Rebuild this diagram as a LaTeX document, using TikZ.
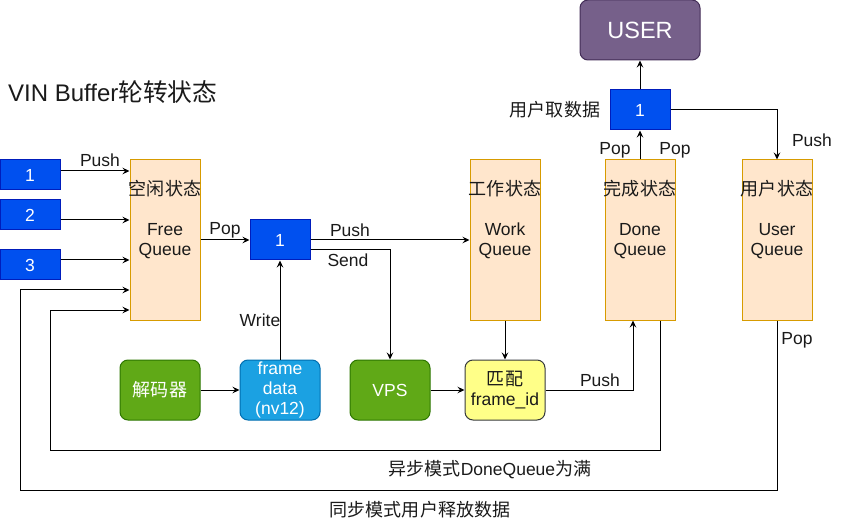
\documentclass[tikz,border=0pt]{standalone}
\usepackage{fontspec}
\setmainfont{Liberation Sans}
\newfontfamily\cjk{Noto Sans CJK SC}[Scale=1.03]
\usetikzlibrary{arrows.meta}
\definecolor{qF}{HTML}{FFE6CC}
\definecolor{qS}{HTML}{D79B00}
\definecolor{bF}{HTML}{0050EF}
\definecolor{bS}{HTML}{001DBC}
\definecolor{gF}{HTML}{60A917}
\definecolor{gS}{HTML}{2D7600}
\definecolor{cF}{HTML}{1BA1E2}
\definecolor{cS}{HTML}{006EAF}
\definecolor{yF}{HTML}{FFFF88}
\definecolor{yS}{HTML}{36393D}
\definecolor{pF}{HTML}{76608A}
\definecolor{pS}{HTML}{432D57}
\definecolor{txt}{HTML}{1A1A1A}
\begin{document}
\begin{tikzpicture}[x=1pt,y=-1pt,
  base/.style={font=\fontsize{17.5}{20}\selectfont, inner sep=0pt, align=center, text=txt},
  bluebox/.style={base, draw=bS, fill=bF, text=white, minimum width=60pt, minimum height=30pt, line width=1pt},
  queue/.style={draw=qS, fill=qF, minimum width=70pt, minimum height=160pt, inner sep=0pt, line width=1pt},
  rbox/.style={base, rounded corners=8pt, minimum width=80pt, minimum height=60pt, line width=1pt},
  arr/.style={-{Stealth[length=7pt,width=6.5pt,inset=2.5pt]}, line width=1pt},
  lbl/.style={base}
]
\useasboundingbox (0,0) rectangle (843,521);

% title
\node[base, font=\fontsize{24}{27}\selectfont, anchor=west] (title) at (8,92) {VIN Buffer{\cjk 轮转状态}};

% left buffers
\node[bluebox] (b1) at (30,175) {1};
\node[bluebox] (b2) at (30,215) {2};
\node[bluebox] (b3) at (30,265) {3};

% queues
\node[queue] (free) at (165,240) {};
\node[base] (freeT) at (165,220) {{\cjk 空闲状态}\\[20pt]Free\\Queue};
\node[queue] (work) at (505,240) {};
\node[base] (workT) at (505,220) {{\cjk 工作状态}\\[20pt]Work\\Queue};
\node[queue] (done) at (640,240) {};
\node[base] (doneT) at (640,220) {{\cjk 完成状态}\\[20pt]Done\\Queue};
\node[queue] (uq) at (777,240) {};
\node[base] (uqT) at (777,220) {{\cjk 用户状态}\\[20pt]User\\Queue};

% middle buffer and top buffer
\node[bluebox, minimum height=40pt] (m) at (280,240) {1};
\node[bluebox, minimum height=40pt] (t) at (640,110) {1};
\node[rbox, draw=pS, fill=pF, text=white, minimum width=120pt, font=\fontsize{23.5}{26}\selectfont] (user) at (640,30) {USER};

% bottom processing boxes
\node[rbox, draw=gS, fill=gF, text=white] (dec) at (160,390) {\cjk 解码器};
\node[rbox, draw=cS, fill=cF, text=white] (fd) at (280,390) {frame\\data\\(nv12)};
\node[rbox, draw=gS, fill=gF, text=white] (vps) at (390,390) {VPS};
\node[rbox, draw=yS, fill=yF] (match) at (505,390) {{\cjk 匹配}\\frame\_id};

% connectors
\coordinate (p1) at ([yshift=4pt]b1.east);
\coordinate (p2) at ([yshift=-5pt]b2.east);
\coordinate (p3) at ([yshift=5pt]b3.east);
\draw[arr] (p1) -- (p1 -| free.west);
\draw[arr] (p2) -- (p2 -| free.west);
\draw[arr] (p3) -- (p3 -| free.west);

\draw[arr] (free.east) -- (m.west);
\draw[arr] (m.east) -- (m.east -| work.west);
\coordinate (ps) at ([yshift=-10pt]m.east);
\draw[arr] (ps) -| (vps.north);
\draw[arr] (fd.north) -- (m.south);
\draw[arr] (dec.east) -- (fd.west);
\draw[arr] (vps.east) -- (match.west);
\draw[arr] (work.south) -- (match.north);
\coordinate (pd) at ([xshift=-7pt]done.south);
\draw[arr] (match.east) -| (pd);
\draw[arr] (done.north) -- (t.south);
\draw[arr] (t.north) -- (user.south);
\draw[arr] (t.east) -| (uq.north);

% feedback loops
\coordinate (a0) at ([xshift=20pt]done.south);
\coordinate (a2) at (50,450);
\coordinate (fa) at ([yshift=-70pt]free.west);
\draw[arr] (a0) |- (a2) |- (fa);
\coordinate (s2) at (20,490);
\coordinate (fs) at ([yshift=-50pt]free.west);
\draw[arr] (uq.south) |- (s2) |- (fs);

% labels
\node[lbl] (lPush1) at (100,160) {Push};
\node[lbl] (lPop1) at (225,230) {Pop};
\node[lbl] (lPush2) at (350,230) {Push};
\node[lbl] (lSend) at (348,260) {Send};
\node[lbl] (lWrite) at (260,320) {Write};
\node[lbl] (lPush3) at (600,380) {Push};
\node[lbl] (lPop2) at (615,150) {Pop};
\node[lbl] (lPop3) at (675,150) {Pop};
\node[lbl] (lPush4) at (812,140) {Push};
\node[lbl] (lPop4) at (797,340) {Pop};
\node[lbl] (lTake) at (555,110) {\cjk 用户取数据};
\node[lbl] (lAsync) at (490,470) {{\cjk 异步模式}DoneQueue{\cjk 为满}};
\node[lbl] (lSync) at (420,510) {\cjk 同步模式用户释放数据};
\end{tikzpicture}
\end{document}
